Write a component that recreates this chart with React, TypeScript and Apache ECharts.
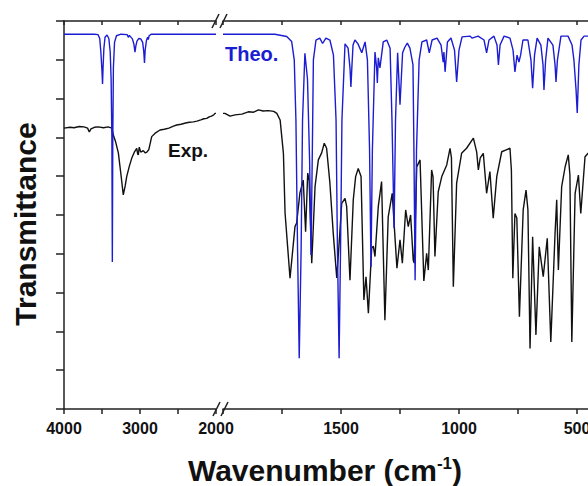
import React, { useEffect, useRef } from "react";
import * as echarts from "echarts";

// Wavenumber (cm-1) vs transmittance (arbitrary units, 0-100)
const theoLeft: number[][] = [
  [4000, 96.6], [3600, 96.6], [3553, 96.5], [3530, 95.5], [3515, 92], [3500, 87], [3493, 83.8], [3486, 88],
  [3475, 93], [3460, 95.8], [3434, 96.4], [3410, 95.5], [3392, 92], [3380, 85], [3370, 70], [3364, 37.9],
  [3358, 70], [3350, 88], [3335, 94.5], [3310, 96.2], [3250, 96.6], [3170, 96.5], [3154, 95.8], [3140, 96.3],
  [3100, 95.4], [3080, 94], [3066, 92], [3055, 93.5], [3040, 94.8], [3015, 95.5], [2990, 95.4], [2965, 94.5],
  [2950, 92], [2941, 89.2], [2932, 92.5], [2915, 95], [2900, 95.8], [2891, 95.2], [2880, 96.2], [2850, 96.6],
  [2000, 96.6],
];

const expLeft: number[][] = [
  [4000, 72.4], [3920, 72.6], [3868, 72.5], [3800, 72.8], [3737, 72.7], [3690, 72.4], [3667, 71.4], [3645, 72.2],
  [3600, 72.6], [3550, 72.7], [3480, 72.5], [3420, 72.7], [3370, 72.4], [3351, 70.6], [3320, 68.8], [3285, 66],
  [3250, 60.3], [3220, 55.2], [3195, 57.5], [3175, 59.9], [3140, 62.6], [3109, 64.6], [3075, 66.2], [3043, 67.2],
  [3030, 65.7], [3022, 65.5], [3010, 67.5], [2990, 66.2], [2957, 66.6], [2930, 66.0], [2910, 66.2], [2885, 66.8],
  [2846, 70.2], [2800, 71.1], [2737, 71.9], [2680, 72.1], [2620, 72.4], [2560, 72.9], [2517, 73.2], [2460, 73.4],
  [2400, 73.7], [2350, 73.9], [2298, 74], [2250, 74.2], [2200, 74.5], [2160, 74.8], [2122, 74.9], [2090, 75.3],
  [2060, 75.5], [2030, 75.8], [2013, 76.2], [2000, 76.2],
];

const theoRight: number[][] = [
  [2000, 96.6], [1992, 96.6], [1780, 96.6], [1730, 96.0], [1709, 94.7], [1698, 89.9], [1691, 74.5], [1684, 41],
  [1677, 13.1], [1669, 41], [1663, 74.5], [1653, 91.7], [1642, 85], [1633, 64], [1627, 39.7], [1621, 69],
  [1617, 90], [1606, 95.1], [1590, 95.6], [1578, 94.2], [1564, 95.6], [1547, 95.1], [1532, 91.2], [1521, 74.5],
  [1515, 41], [1508, 13.1], [1502, 41], [1496, 74.5], [1483, 94.1], [1470, 93], [1462, 88], [1458, 83],
  [1454, 88], [1449, 93.8], [1441, 95.1], [1428, 94.1], [1412, 91.8], [1398, 94.6], [1388, 89.9], [1379, 66.8],
  [1373, 36.6], [1367, 66.8], [1356, 92], [1349, 88], [1346, 84], [1342, 90.5], [1335, 87.9], [1321, 94.6],
  [1306, 95.1], [1292, 93], [1284, 74.5], [1275, 46.6], [1269, 74.5], [1260, 91.8], [1250, 78.4], [1239, 91.8],
  [1229, 93.3], [1219, 94.3], [1208, 93], [1195, 88.7], [1191, 66.8], [1186, 33.2], [1180, 66.8], [1169, 89.9],
  [1157, 94.6], [1137, 95.1], [1126, 91.8], [1114, 95.1], [1093, 95.6], [1076, 93.8], [1067, 89.4], [1064, 92],
  [1059, 86.9], [1049, 94.6], [1034, 95.6], [1019, 92.5], [1010, 84.3], [1000, 92.5], [987, 95.9], [953, 96.1],
  [945, 95.6], [919, 96.1], [894, 95.1], [883, 91.8], [873, 95.1], [852, 96.1], [839, 93.8], [833, 88.7],
  [826, 93.8], [809, 96.1], [784, 95.6], [771, 92.5], [763, 86.9], [754, 91.2], [746, 89.4], [739, 91.2],
  [729, 95.1], [708, 95.1], [695, 89.9], [688, 82.7], [680, 91.2], [669, 95.6], [653, 93.8], [644, 88.7],
  [640, 82.2], [633, 89.9], [623, 95.6], [602, 93.8], [593, 88.7], [589, 84.3], [583, 89.9], [568, 96.1],
  [538, 96.1], [521, 93.8], [513, 89.9], [504, 82.2], [499, 76.3], [492, 88.7], [483, 95.1], [470, 96.1],
  [453, 96.1], [400, 96.3],
];

const expRight: number[][] = [
  [2000, 76.2], [1992, 76.2], [1970, 75.5], [1949, 75.8], [1920, 76.0], [1893, 76.6], [1870, 76.5], [1850, 77.1],
  [1830, 76.8], [1808, 76.9], [1785, 76.7], [1772, 76.2], [1758, 74.5], [1744, 65.9], [1737, 50.5], [1716, 33.7],
  [1695, 47], [1688, 47.9], [1674, 55.7], [1660, 59], [1650, 45.7], [1641, 60.8], [1635, 59], [1624, 37.6],
  [1610, 57.3], [1596, 64.2], [1582, 66], [1571, 68.5], [1561, 67.2], [1547, 58.2], [1533, 45.4], [1518, 33.8],
  [1507, 43.6], [1497, 53], [1483, 54.3], [1476, 52.2], [1462, 33.2], [1448, 53.9], [1438, 59.9], [1427, 62],
  [1415, 59.9], [1403, 28.1], [1394, 34.1], [1384, 24.7], [1370, 41.4], [1363, 42], [1356, 39.3], [1342, 52.2],
  [1328, 58.6], [1314, 22.9], [1300, 49.5], [1283, 55.6], [1263, 36.3], [1250, 43.6], [1240, 37.6], [1226, 51.3],
  [1215, 47], [1205, 50], [1194, 38.4], [1190, 37.6], [1179, 62.4], [1165, 64.2], [1149, 33], [1137, 40.1],
  [1130, 35.8], [1116, 61.6], [1110, 59.8], [1102, 39.3], [1088, 56], [1073, 59.9], [1052, 62.9], [1038, 67.2],
  [1032, 64.7], [1024, 31.5], [1010, 58.2], [989, 65.9], [968, 67.2], [939, 69.8], [925, 66.2], [918, 61.6],
  [910, 64.7], [897, 65.9], [883, 55.6], [869, 61.2], [855, 49.2], [840, 59.9], [819, 66.3], [800, 66.8],
  [784, 67.2], [778, 61.6], [772, 33.7], [763, 50.4], [755, 49.2], [744, 23.8], [728, 51.3], [716, 56.4],
  [708, 51.4], [699, 15.6], [688, 44.4], [674, 19.1], [660, 41.8], [643, 34.1], [626, 44], [611, 17.3],
  [593, 45.3], [586, 53.9], [579, 35.8], [565, 57.3], [550, 62.5], [537, 65.5], [530, 60.3], [522, 17.3],
  [508, 55.6], [494, 60.3], [484, 50.4], [466, 65], [453, 65.9], [430, 66.5],
];

const leftTickLabels = [4000, 3000, 2000];
const rightTickLabels = [1500, 1000, 500];

const FONT = "'Liberation Sans', Arial, sans-serif";
const BLUE = "#1c1cd2";
const BLACK = "#111111";
const AXIS = "#222222";

export default function App() {
  const ref = useRef<HTMLDivElement>(null);

  useEffect(() => {
    if (!ref.current) return;
    const chart = echarts.init(ref.current, undefined, { renderer: "svg" });

    const axisLine = { show: true, lineStyle: { color: AXIS, width: 1.5 } };
    const label = (allowed: number[]) => ({
      show: true,
      margin: 11,
      color: BLACK,
      fontFamily: FONT,
      fontWeight: "bold" as const,
      fontSize: 16,
      showMinLabel: true,
      showMaxLabel: true,
      hideOverlap: false,
      formatter: (v: number) => (allowed.indexOf(v) >= 0 ? String(v) : ""),
    });

    chart.setOption({
      animation: false,
      backgroundColor: "#ffffff",
      grid: [
        { left: 64, top: 21, width: 152, height: 388, outerBoundsMode: "none", containLabel: false },
        { left: 223, top: 21, width: 472, height: 388, outerBoundsMode: "none", containLabel: false },
      ],
      xAxis: [
        {
          type: "value", gridIndex: 0, min: 2000, max: 4000, interval: 500, inverse: true,
          axisLine, axisTick: { show: true, length: 5, lineStyle: { color: AXIS, width: 1.5 } },
          axisLabel: label(leftTickLabels), splitLine: { show: false },
        },
        {
          type: "value", gridIndex: 1, min: 0, max: 2000, interval: 250, inverse: true,
          axisLine, axisTick: { show: true, length: 5, lineStyle: { color: AXIS, width: 1.5 } },
          axisLabel: label(rightTickLabels), splitLine: { show: false },
        },
        {
          type: "value", gridIndex: 0, position: "top", min: 2000, max: 4000, interval: 500, inverse: true,
          axisLine, axisTick: { show: true, inside: true, length: 4, lineStyle: { color: AXIS, width: 1.5 } },
          axisLabel: { show: false }, splitLine: { show: false },
        },
        {
          type: "value", gridIndex: 1, position: "top", min: 0, max: 2000, interval: 250, inverse: true,
          axisLine, axisTick: { show: true, inside: true, length: 4, lineStyle: { color: AXIS, width: 1.5 } },
          axisLabel: { show: false }, splitLine: { show: false },
        },
      ],
      yAxis: [
        {
          type: "value", gridIndex: 0, min: 0, max: 100, interval: 10,
          axisLine, axisTick: { show: true, length: 8, lineStyle: { color: AXIS, width: 1.5 } },
          axisLabel: { show: false }, splitLine: { show: false },
        },
        { type: "value", gridIndex: 1, min: 0, max: 100, show: false, splitLine: { show: false } },
      ],
      series: [
        { type: "line", xAxisIndex: 0, yAxisIndex: 0, data: expLeft, symbol: "none", lineStyle: { color: BLACK, width: 1.4 } },
        { type: "line", xAxisIndex: 1, yAxisIndex: 1, data: expRight, symbol: "none", lineStyle: { color: BLACK, width: 1.4 } },
        { type: "line", xAxisIndex: 0, yAxisIndex: 0, data: theoLeft, symbol: "none", lineStyle: { color: BLUE, width: 1.4 } },
        { type: "line", xAxisIndex: 1, yAxisIndex: 1, data: theoRight, symbol: "none", lineStyle: { color: BLUE, width: 1.4 } },
      ],
      graphic: [
        // axis break marks
        { type: "line", shape: { x1: 213, y1: 416, x2: 220, y2: 402 }, style: { stroke: AXIS, lineWidth: 1.5 } },
        { type: "line", shape: { x1: 221, y1: 416, x2: 228, y2: 402 }, style: { stroke: AXIS, lineWidth: 1.5 } },
        { type: "line", shape: { x1: 212, y1: 28, x2: 219, y2: 14 }, style: { stroke: AXIS, lineWidth: 1.5 } },
        { type: "line", shape: { x1: 220, y1: 28, x2: 227, y2: 14 }, style: { stroke: AXIS, lineWidth: 1.5 } },
        {
          type: "text", x: 225, y: 54,
          style: { text: "Theo.", fill: BLUE, fontFamily: FONT, fontWeight: "bold", fontSize: 20, align: "left", verticalAlign: "middle" },
        },
        {
          type: "text", x: 168, y: 150,
          style: { text: "Exp.", fill: BLACK, fontFamily: FONT, fontWeight: "bold", fontSize: 19, align: "left", verticalAlign: "middle" },
        },
        {
          type: "text", x: 25, y: 224, rotation: Math.PI / 2,
          style: { text: "Transmittance", fill: BLACK, fontFamily: FONT, fontWeight: "bold", fontSize: 30, align: "center", verticalAlign: "middle" },
        },
        {
          type: "text", x: 325, y: 470,
          style: {
            text: "{a|Wavenumber (cm}{s|-1}{a|)}",
            fill: BLACK, fontFamily: FONT, fontWeight: "bold", fontSize: 30, align: "center", verticalAlign: "middle",
            rich: {
              a: { fontFamily: FONT, fontWeight: "bold", fontSize: 30, fill: BLACK },
              s: { fontFamily: FONT, fontWeight: "bold", fontSize: 17, fill: BLACK, verticalAlign: "top" },
            },
          },
        },
      ],
    });

    return () => chart.dispose();
  }, []);

  return (
    <div
      ref={ref}
      style={{ position: "fixed", left: 0, top: 0, width: 588, height: 486, background: "#ffffff", overflow: "hidden" }}
    />
  );
}
